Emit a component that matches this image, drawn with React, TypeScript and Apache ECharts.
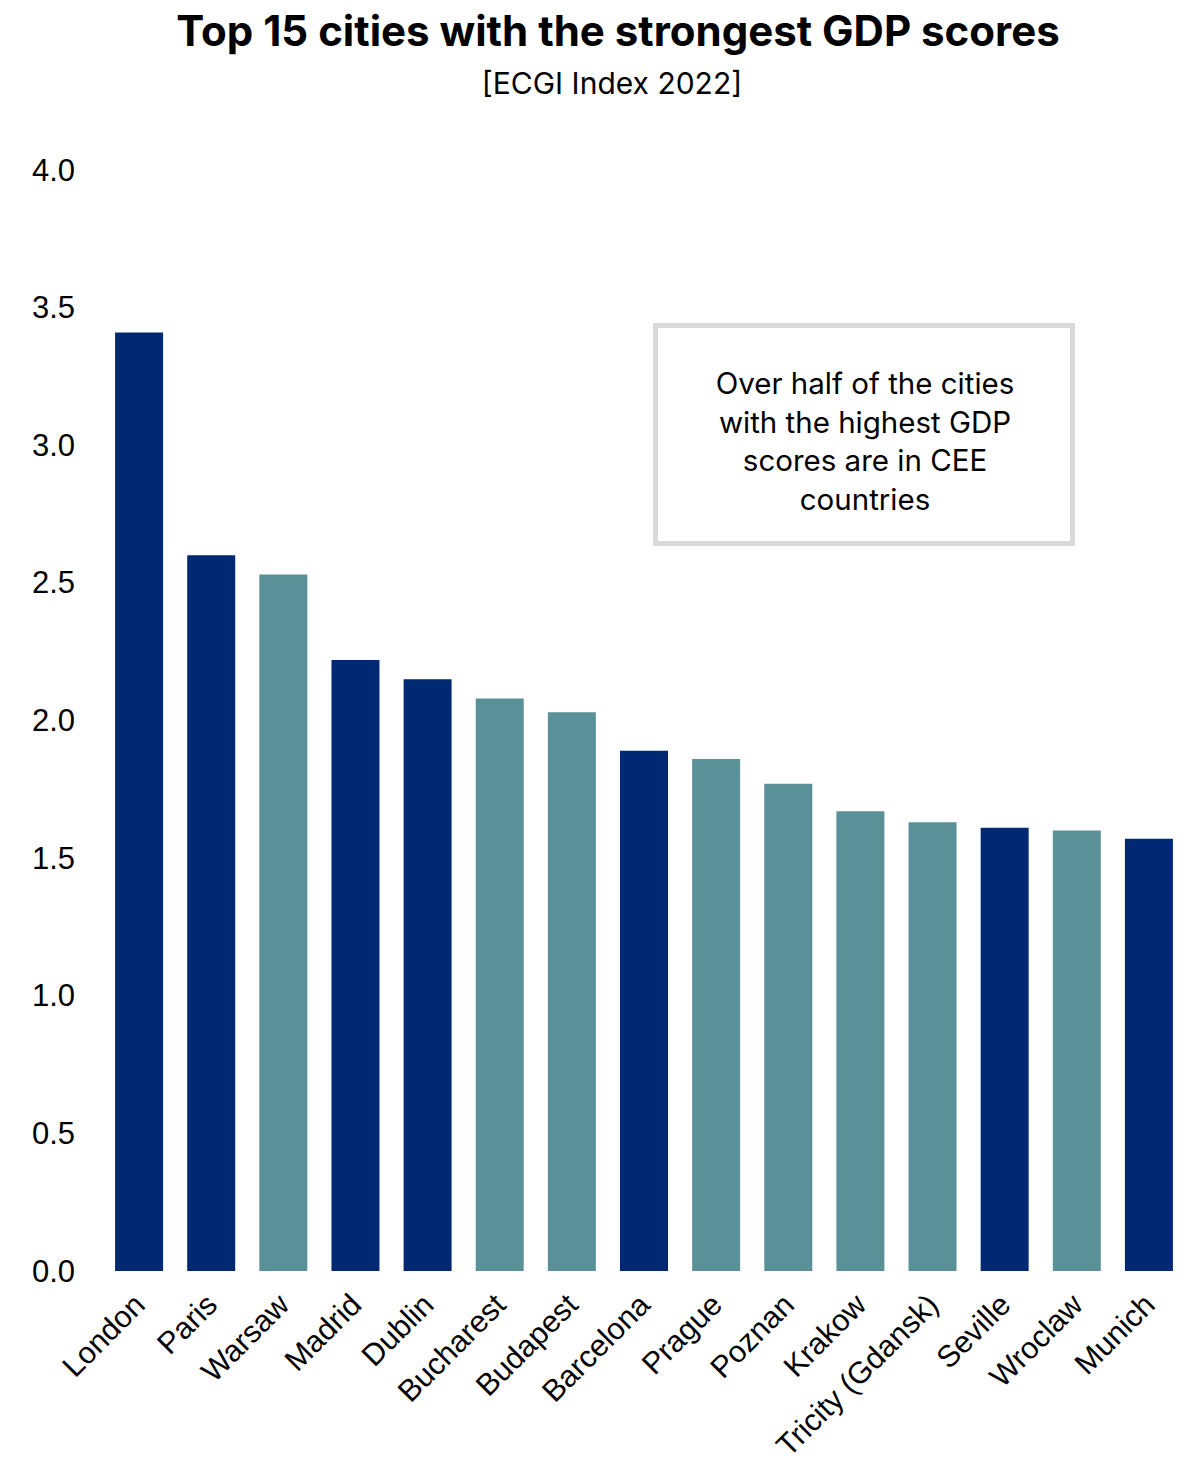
import React, { useEffect, useRef } from "react";
import * as echarts from "echarts";

// ECGI Index 2022 — GDP scores of the top 15 cities
const cities = [
  "London", "Paris", "Warsaw", "Madrid", "Dublin", "Bucharest", "Budapest",
  "Barcelona", "Prague", "Poznan", "Krakow", "Tricity (Gdansk)", "Seville",
  "Wroclaw", "Munich",
];
const gdpScores = [
  3.41, 2.6, 2.53, 2.22, 2.15, 2.08, 2.03, 1.89, 1.86, 1.77, 1.67, 1.63, 1.61,
  1.6, 1.57,
];
// true = city in a CEE country
const isCEE = [
  false, false, true, false, false, true, true, false, true, true, true, true,
  false, true, false,
];
const yTicks = [0, 0.5, 1, 1.5, 2, 2.5, 3, 3.5, 4];

const titleText = "Top 15 cities with the strongest GDP scores";
const subtitleText = "[ECGI Index 2022]";
const noteLines = [
  "Over half of the cities",
  "with the highest GDP",
  "scores are in CEE",
  "countries",
];

const NAVY = "#002873";
const TEAL = "#5A9199";
const UI_FONT = "Inter, 'Noto Sans', sans-serif";
const AXIS_FONT = "'Liberation Sans', Arial, sans-serif";

export default function App() {
  const ref = useRef<HTMLDivElement>(null);

  useEffect(() => {
    if (!ref.current) return;
    const chart = echarts.init(ref.current, null, { renderer: "svg" });

    const noteX = 865;
    const noteTop = 383;
    const noteStep = 38.5;

    chart.setOption({
      animation: false,
      backgroundColor: "#ffffff",
      grid: {
        left: 103,
        right: 10,
        top: 170,
        bottom: 195,
        outerBoundsMode: "none",
        containLabel: false,
      },
      xAxis: {
        type: "category",
        data: cities,
        axisLine: { show: false },
        axisTick: { show: false },
        axisLabel: {
          interval: 0,
          rotate: 45,
          margin: 28,
          color: "#000000",
          fontSize: 30.5,
          fontFamily: AXIS_FONT,
        },
      },
      yAxis: {
        type: "value",
        min: 0,
        max: 4,
        interval: 0.5,
        splitLine: { show: false },
        axisLine: { show: false },
        axisTick: { show: false },
        axisLabel: {
          margin: 28,
          color: "#000000",
          fontSize: 31,
          fontFamily: AXIS_FONT,
          formatter: (v: number) =>
            yTicks.includes(v) ? v.toFixed(1) : "",
        },
      },
      series: [
        {
          type: "bar",
          barWidth: 48,
          data: gdpScores.map((v, i) => ({
            value: v,
            itemStyle: { color: isCEE[i] ? TEAL : NAVY },
          })),
        },
      ],
      graphic: [
        {
          type: "text",
          x: 618,
          y: 30,
          style: {
            text: titleText,
            fill: "#000000",
            font: `bold 42px ${UI_FONT}`,
            align: "center",
            verticalAlign: "middle",
          },
        },
        {
          type: "text",
          x: 612,
          y: 83,
          style: {
            text: subtitleText,
            fill: "#000000",
            font: `30px ${UI_FONT}`,
            align: "center",
            verticalAlign: "middle",
          },
        },
        {
          type: "rect",
          shape: { x: 655.5, y: 325.5, width: 417, height: 218 },
          style: { fill: "#ffffff", stroke: "#d9d9d9", lineWidth: 5 },
          z: 10,
        },
        ...noteLines.map((line, i) => ({
          type: "text",
          x: noteX,
          y: noteTop + i * noteStep,
          z: 11,
          style: {
            text: line,
            fill: "#000000",
            font: `29.5px ${UI_FONT}`,
            align: "center",
            verticalAlign: "middle",
          },
        })),
      ],
    });

    return () => chart.dispose();
  }, []);

  return (
    <div
      ref={ref}
      style={{ position: "absolute", left: 0, top: 0, width: 1195, height: 1466 }}
    />
  );
}
